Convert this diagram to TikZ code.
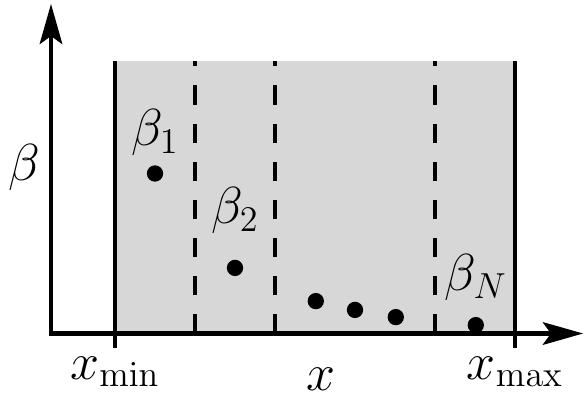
\documentclass[tikz,border=0pt]{standalone}
\usepackage{tikz}
\usetikzlibrary{arrows.meta, positioning}
\definecolor{binfill}{RGB}{215,215,215}

\begin{document}
\begin{tikzpicture}[x=0.56cm, y=0.56cm, font=\huge,
  sample/.style={circle, fill=black, inner sep=0pt, minimum size=6.5pt},
  limit/.style={line width=1.6pt},
  binsep/.style={line width=1.3pt, dash pattern=on 7.6pt off 7.6pt}]

\useasboundingbox (-1.275,-1.5875) rectangle (13.325,8.3375);

% bins between x_min and x_max
\fill[binfill] (1.6,0) rectangle (11.6,6.8);
\foreach \x in {3.6, 5.6, 9.6} {
    \draw[binsep] (\x,0) -- (\x,6.8);
}

% range limits with ticks
\coordinate (lo) at (1.6,-0.36);
\coordinate (hi) at (11.6,-0.36);
\draw[limit] (lo) -- (1.6,6.8);
\draw[limit] (hi) -- (11.6,6.8);

% axes
\draw[line width=1.6pt, line join=miter,
  {Stealth[length=16pt,width=9pt,inset=3.2pt]}-{Stealth[length=16pt,width=9pt,inset=3.2pt]}]
  (0,8.24) -- (0,0) -- (13.3,0);

% samples
\node[sample] (b1) at (2.6,4.0) {};
\node[sample] (b2) at (4.6,1.64) {};
\node[sample] (m1) at (6.62,0.81) {};
\node[sample] (m2) at (7.6,0.59) {};
\node[sample] (m3) at (8.62,0.41) {};
\node[sample] (bN) at (10.62,0.21) {};

\node[above=0pt of b1] (l1) {$\beta_1$};
\node[above=6.6pt of b2] (l2) {$\beta_2$};
\node[above=2.6pt of bN] (lN) {$\beta_N$};

% axis labels
\node[below=0pt of lo] (xlo) {$x_{\min}$};
\node[below=0pt of hi] (xhi) {$x_{\max}$};
\node[inner sep=0pt] (xlab) at (6.74,-1.14) {$x$};
\node (ylab) at (-0.675,4.14) {$\beta$};
\end{tikzpicture}
\end{document}
